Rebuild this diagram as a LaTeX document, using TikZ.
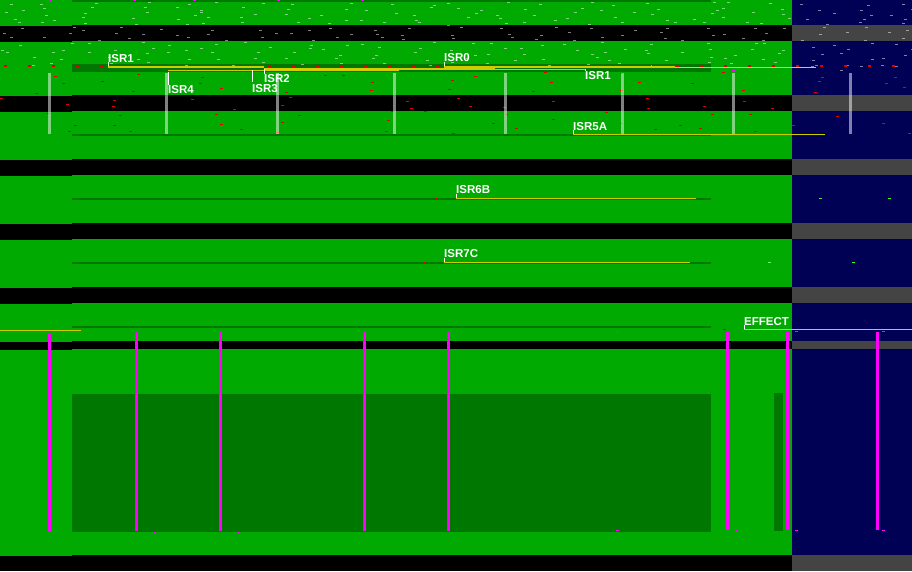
\documentclass[tikz,border=0pt]{standalone}
\usepackage{fontspec}
\setmainfont{Liberation Sans}
\definecolor{cgreen}{HTML}{00AA00}
\definecolor{dgreen}{HTML}{007700}
\definecolor{navy}{HTML}{000055}
\definecolor{gband}{HTML}{444444}
\definecolor{cyel}{HTML}{CCCC00}
\definecolor{lyel}{HTML}{C8C850}
\definecolor{cmag}{HTML}{FF00FF}
\definecolor{cred}{HTML}{DD0000}
\tikzset{
  speck/.style={fill=white,fill opacity=.5},
  lbl/.style={anchor=base west,inner sep=0pt,text=white,font=\fontsize{11.5}{11.5}\bfseries},
  tickline/.style={draw=white,line width=1pt},
  yline/.style={draw=cyel,line width=1.2pt},
  magline/.style={fill=cmag},
}
\begin{document}
\begin{tikzpicture}[x=1pt,y=-1pt]
\useasboundingbox (0,0) rectangle (912,571);
% backgrounds
\fill[cgreen] (0,0) rectangle (792,571);
\fill[navy] (792,0) rectangle (912,571);
% bands
\foreach \a/\b in {25/41,95/111,159/175,223/239,287/303,341/349,555/571}{
  \fill[black] (72,\a) rectangle (792,\b);
  \fill[gband] (792,\a) rectangle (912,\b);
}
\foreach \a/\b in {26/42,96/112,160/176,224/240,288/304,342/350,556/571}{
  \fill[black] (0,\a) rectangle (72,\b);
}
% dark green parts
\fill[dgreen] (72,0) rectangle (711,2);
\fill[dgreen] (72,64) rectangle (711,72);
\foreach \yy in {134,198,262,326}{\fill[dgreen] (72,\yy) rectangle (711,\yy+2);}
\fill[dgreen] (72,394) rectangle (711,532);
\fill[dgreen] (774,393) rectangle (783,531);
% speckles (jittered grid)
\pgfmathsetseed{4321}
\foreach \r in {0,...,12}{
  \foreach \c in {0,...,22}{
    \pgfmathsetmacro{\rx}{int(\c*40+rnd*37)}
    \pgfmathsetmacro{\ry}{int(2+\r*5+rnd*4)}
    \fill[speck] (\rx,\ry) rectangle ++(3,1);
  }
}
\foreach \c in {0,...,3}{
  \pgfmathsetmacro{\rx}{int(794+\c*30+rnd*25)}
  \pgfmathsetmacro{\ry}{int(65+rnd*6)}
  \fill[speck] (\rx,\ry) rectangle ++(3,1);
}
% red marks
\foreach \k in {0,...,37}{\fill[cred] (4+24*\k,64.5) rectangle ++(3,2);}
\foreach \r in {0,...,7}{
  \foreach \c in {0,...,10}{
    \pgfmathsetmacro{\rx}{int(\c*83+rnd*80)}
    \pgfmathsetmacro{\ry}{int(71+\r*8+rnd*7)}
    \fill[cred] (\rx,\ry) rectangle ++(3,1);
  }
}
% top magenta dots
\foreach \mx in {49,133,193,277,361}{\fill[cmag] (\mx,0) rectangle ++(3,1);}
% light bars
\foreach \bx in {48,165,276,393,504,621,732,849}{
  \fill[white,fill opacity=.5] (\bx,73) rectangle (\bx+3,134);
}
\fill[cmag] (732,70) rectangle (735,72);
% yellow lines upper
\draw[yline] (108,67) -- (264,67);
\draw[yline] (168,70.3) -- (264,70.3);
\fill[cyel!90!yellow] (264,67.5) rectangle (399,71);
\fill[cyel] (399,68) rectangle (495,70);
\draw[yline] (495,69.3) -- (585,69.3);
\fill[cyel] (444,65.8) rectangle (675,67.8);
\draw[draw=cyel!85!white,line width=1pt] (675,67) -- (816,67);
% labels upper
\node[lbl] (isra) at (108,62) {ISR1};
\draw[tickline] (108.5,62) -- (108.5,66);
\node[lbl] (isrb) at (444,61.5) {ISR0};
\draw[tickline] (444.5,61.5) -- (444.5,65.5);
\node[lbl] (isrc) at (264,82.3) {ISR2};
\draw[tickline] (264.5,69) -- (264.5,74);
\node[lbl] (isrd) at (252,92.6) {ISR3};
\draw[tickline] (252.5,70) -- (252.5,82);
\node[lbl] (isre) at (168,93) {ISR4};
\draw[tickline] (168.5,71.5) -- (168.5,85);
\node[lbl] (isrf) at (585,79) {ISR1};
\draw[tickline] (585.5,68.5) -- (585.5,71);
% ISR5A
\node[lbl] (isrg) at (573,130) {ISR5A};
\draw[tickline] (573.5,130) -- (573.5,133.5);
\draw[yline] (573,134.3) -- (825,134.3);
% ISR6B
\node[lbl] (isrh) at (456,193) {ISR6B};
\draw[tickline] (456.5,193.5) -- (456.5,197.5);
\draw[yline] (456,198.5) -- (696,198.5);
\fill[cred] (435,198) rectangle ++(3,1);
\fill[green!80!white] (819,198) rectangle ++(3,1);
\fill[green!80!white] (888,198) rectangle ++(3,1);
% ISR7C
\node[lbl] (isri) at (444,257) {ISR7C};
\draw[tickline] (444.5,257.5) -- (444.5,261.5);
\draw[yline] (444,262.5) -- (690,262.5);
\fill[cred] (423,262) rectangle ++(3,1);
\fill[green!60!white] (768,262) rectangle ++(3,1);
\fill[green!80!white] (852,262) rectangle ++(3,1);
% EFFECT
\node[lbl] (isrj) at (744,325) {EFFECT};
\draw[tickline] (744.5,325) -- (744.5,328.5);
\draw[draw=lyel,line width=1.2pt] (744,329.3) -- (912,329.3);
\draw[yline] (0,330.3) -- (81,330.3);
\fill[cred] (723,328.5) rectangle ++(3,1);
% magenta lines
\fill[magline] (48,333) rectangle (51,531);
\foreach \mx in {135,219,363,447}{\fill[magline] (\mx,331) rectangle (\mx+3,531);}
\foreach \mx in {726,786,876}{\fill[magline] (\mx,332) rectangle (\mx+3,530);}
% small magenta marks
\foreach \px/\py in {54/331,54/531,153/532,237/532,616/530,616/331,735/330.5,735/530,795/331,795/530,882/331,882/530}{
  \fill[cmag] (\px,\py) rectangle ++(3,1);
}
\end{tikzpicture}
\end{document}
